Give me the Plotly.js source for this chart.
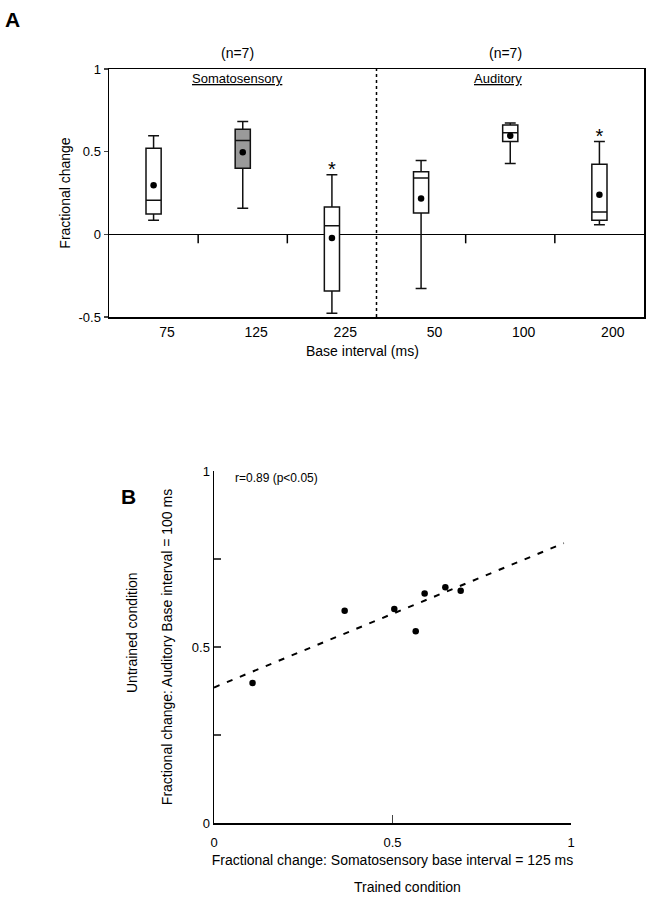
<!DOCTYPE html>
<html><head><meta charset="utf-8">
<script src="https://cdn.plot.ly/plotly-3.0.1.min.js"></script>
<style>body{margin:0;background:#fff}#chart{width:649px;height:900px}</style>
</head><body><div id="chart"></div>
<script>
// Panel A: box plot statistics
const categories = ['75','125','225','50','100','200'];
const lowerWhisker = [0.085, 0.158, -0.477, -0.327, 0.428, 0.058];
const q1           = [0.123, 0.400, -0.342,  0.129, 0.561, 0.085];
const median       = [0.206, 0.567,  0.052,  0.341, 0.614, 0.135];
const q3           = [0.521, 0.636,  0.165,  0.379, 0.661, 0.424];
const upperWhisker = [0.596, 0.683,  0.361,  0.446, 0.673, 0.561];
const means        = [0.297, 0.497, -0.022,  0.216, 0.596, 0.240];
const shaded       = [false, true, false, false, false, false];
const significant  = [false, false, true, false, false, true];
const groupNames = ['Somatosensory', 'Auditory'];
const groupN = ['(n=7)', '(n=7)'];
const yTicksA = [-0.5, 0, 0.5, 1];
const yTickTextA = ['-0.5', '0', '0.5', '1'];

// Panel B: scatter
const trainedX   = [0.108, 0.366, 0.505, 0.565, 0.590, 0.648, 0.691];
const untrainedY = [0.398, 0.603, 0.608, 0.545, 0.652, 0.670, 0.660];
const fitX = [0, 0.98];
const fitY = [0.385, 0.795];
const corrText = 'r=0.89 (p<0.05)';

const FONT = 'Liberation Sans, Arial, sans-serif';
const xIdx = categories.map((c, i) => i);
const traces = [];

categories.forEach((c, i) => {
  traces.push({
    type: 'box', xaxis: 'x', yaxis: 'y',
    x: [i], q1: [q1[i]], median: [median[i]], q3: [q3[i]],
    lowerfence: [lowerWhisker[i]], upperfence: [upperWhisker[i]],
    width: 0.17, whiskerwidth: 0.72,
    fillcolor: shaded[i] ? '#9a9a9a' : 'rgba(255,255,255,1)',
    line: {color: '#111', width: 1.5},
    boxpoints: false, hoverinfo: 'skip', showlegend: false
  });
});

traces.push({
  type: 'scatter', mode: 'markers', xaxis: 'x', yaxis: 'y',
  x: xIdx, y: means, marker: {color: '#000', size: 6.5},
  showlegend: false, hoverinfo: 'skip'
});

const starX = [], starY = [];
significant.forEach((s, i) => { if (s) { starX.push(i); starY.push(upperWhisker[i] + 0.02); } });
traces.push({
  type: 'scatter', mode: 'text', xaxis: 'x', yaxis: 'y',
  x: starX, y: starY, text: starX.map(() => '*'),
  textfont: {family: FONT, size: 20, color: '#000'}, textposition: 'middle center',
  showlegend: false, hoverinfo: 'skip', cliponaxis: false
});

traces.push({
  type: 'scatter', mode: 'lines', xaxis: 'x2', yaxis: 'y2',
  x: fitX, y: fitY, line: {color: '#000', width: 2, dash: '6px,8px'},
  showlegend: false, hoverinfo: 'skip'
});
traces.push({
  type: 'scatter', mode: 'markers', xaxis: 'x2', yaxis: 'y2',
  x: trainedX, y: untrainedY, marker: {color: '#000', size: 6.5},
  showlegend: false, hoverinfo: 'skip'
});

// separators between categories: tick marks on the zero line, dotted line between groups
const shapes = [];
for (let i = 0; i < categories.length - 1; i++) {
  const xm = i + 0.5;
  if (i === 2) {
    shapes.push({type: 'line', xref: 'x', yref: 'y domain', x0: xm, x1: xm, y0: 0, y1: 1,
      line: {color: '#000', width: 1.5, dash: 'dot'}});
  } else {
    shapes.push({type: 'line', xref: 'x', yref: 'y', ysizemode: 'pixel', yanchor: 0,
      x0: xm, x1: xm, y0: 0, y1: -9, line: {color: '#000', width: 1.5}});
  }
}

function ann(o) {
  return Object.assign({showarrow: false, xanchor: 'center', yanchor: 'middle'}, o);
}
const annotations = [
  ann({text: '<b>A</b>', xref: 'paper', yref: 'paper', x: 0.005, y: 0.993, xanchor: 'left', yanchor: 'top',
   font: {family: FONT, size: 21, color: '#000'}}),
  ann({text: '<b>B</b>', xref: 'paper', yref: 'paper', x: 0.183, y: 0.463, xanchor: 'left', yanchor: 'top',
   font: {family: FONT, size: 21, color: '#000'}}),
  ann({text: groupN[0], xref: 'paper', yref: 'paper', x: 237/649, y: 1 - 53/900,
   font: {family: FONT, size: 14, color: '#000'}}),
  ann({text: groupN[1], xref: 'paper', yref: 'paper', x: 505/649, y: 1 - 53/900,
   font: {family: FONT, size: 14, color: '#000'}}),
  ann({text: '<u>' + groupNames[0] + '</u>', xref: 'paper', yref: 'paper', x: 237/649, y: 1 - 78/900,
   font: {family: FONT, size: 13, color: '#000'}}),
  ann({text: '<u>' + groupNames[1] + '</u>', xref: 'paper', yref: 'paper', x: 498/649, y: 1 - 78/900,
   font: {family: FONT, size: 13, color: '#000'}}),
  ann({text: 'Base interval (ms)', xref: 'paper', yref: 'paper', x: 362/649, y: 1 - 351/900,
   font: {family: FONT, size: 14, color: '#000'}}),
  ann({text: corrText, xref: 'paper', yref: 'paper', x: 233/649, y: 1 - 478/900, xanchor: 'left',
   font: {family: FONT, size: 12, color: '#000'}}),
  ann({text: 'Untrained condition', xref: 'paper', yref: 'paper', x: 132/649, y: 1 - 633/900,
   textangle: -90, font: {family: FONT, size: 14, color: '#000'}}),
  ann({text: 'Trained condition', xref: 'paper', yref: 'paper', x: 407/649, y: 1 - 887/900,
   font: {family: FONT, size: 14, color: '#000'}})
];

const layout = {
  width: 649, height: 900,
  margin: {l: 0, r: 0, t: 0, b: 0},
  paper_bgcolor: '#fff', plot_bgcolor: '#fff',
  font: {family: FONT, size: 13, color: '#000'},
  showlegend: false,
  xaxis: {
    domain: [109/649, 644/649], anchor: 'y', range: [-0.5, 5.5],
    tickvals: xIdx.map(i => i + 0.15), ticktext: categories, ticks: '', showgrid: false, zeroline: false,
    showline: true, mirror: true, linecolor: '#000', linewidth: 1.5,
    tickfont: {size: 14}, ticklabelstandoff: 2, fixedrange: true
  },
  yaxis: {
    domain: [1 - 317/900, 1 - 69/900], anchor: 'x', range: [-0.5, 1],
    tickvals: yTicksA, ticktext: yTickTextA, ticks: 'outside', ticklen: 4, tickwidth: 1.2,
    showgrid: false, zeroline: true, zerolinecolor: '#000', zerolinewidth: 1.5,
    showline: true, mirror: true, linecolor: '#000', linewidth: 1.5,
    tickfont: {size: 13}, fixedrange: true,
    title: {text: 'Fractional change', font: {size: 14}, standoff: 4}
  },
  xaxis2: {
    domain: [214/649, 571/649], anchor: 'y2', range: [0, 1],
    tickvals: [0, 0.5, 1], ticktext: ['0', '0.5', '1'], ticks: 'inside', ticklen: 8, tickwidth: 1.2,
    showgrid: false, zeroline: false, showline: true, linecolor: '#000', linewidth: 1.5,
    tickfont: {size: 13}, ticklabelstandoff: 7, fixedrange: true,
    title: {text: 'Fractional change: Somatosensory base interval = 125 ms', font: {size: 14}, standoff: 6}
  },
  yaxis2: {
    domain: [1 - 823/900, 1 - 471/900], anchor: 'x2', range: [0, 1],
    tickvals: [0, 0.25, 0.5, 0.75, 1], ticktext: ['0', '', '0.5', '', '1'],
    ticks: 'inside', ticklen: 7, tickwidth: 1.2,
    showgrid: false, zeroline: false, showline: true, linecolor: '#000', linewidth: 1.5,
    tickfont: {size: 13}, fixedrange: true,
    title: {text: 'Fractional change: Auditory Base interval = 100 ms', font: {size: 14}, standoff: 16}
  },
  shapes: shapes,
  annotations: annotations
};

Plotly.newPlot('chart', traces, layout, {staticPlot: true, displayModeBar: false});
</script>
</body></html>
